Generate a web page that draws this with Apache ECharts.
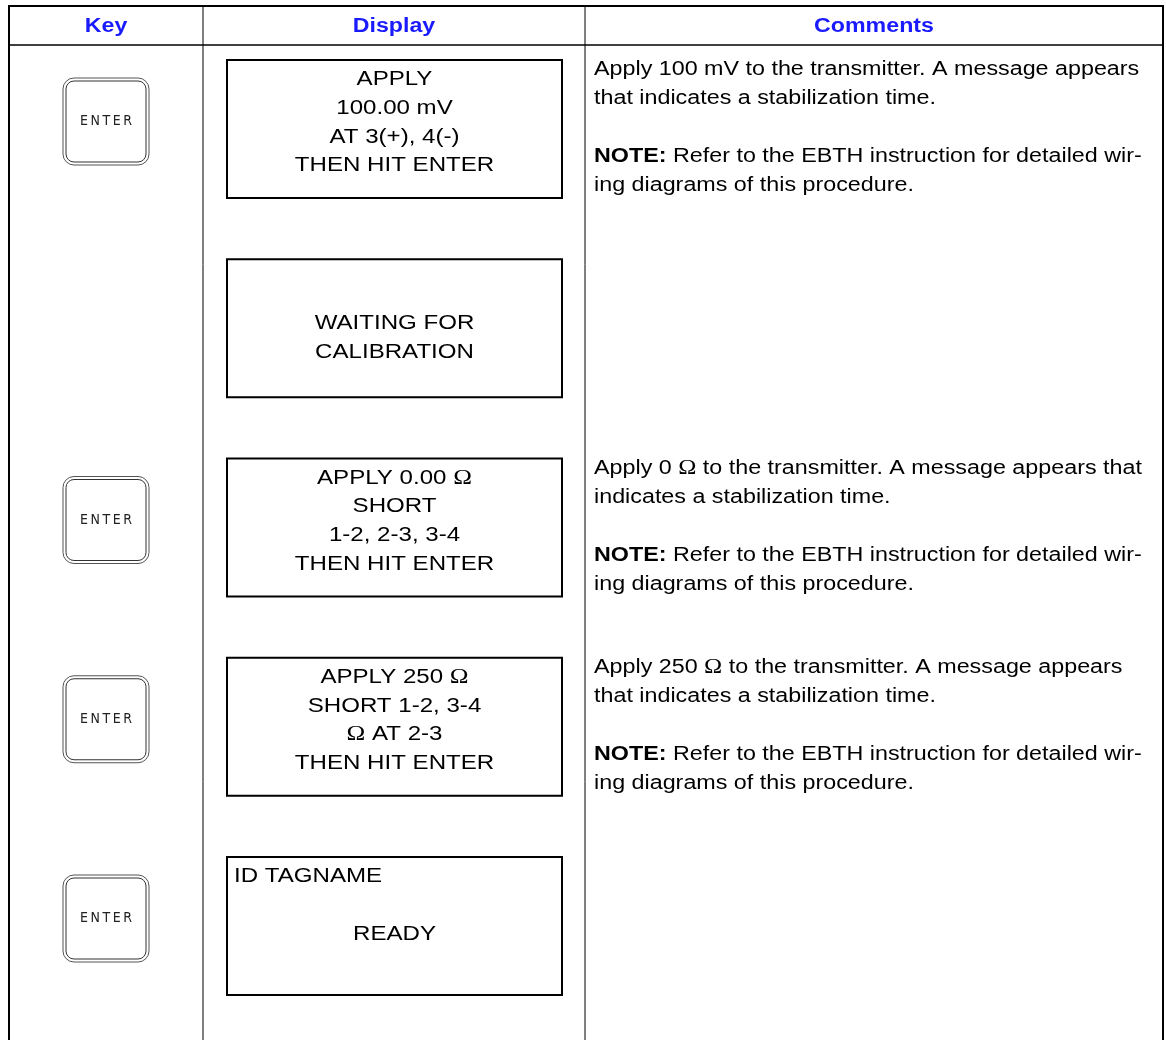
<!DOCTYPE html>
<html>
<head>
<meta charset="utf-8">
<script src="https://cdn.jsdelivr.net/npm/echarts@6/dist/echarts.min.js"></script>
<style>html,body{margin:0;padding:0;background:#fff;}#c{width:1166px;height:1040px;}</style>
</head>
<body>
<div id="c"></div>
<script>
// ---- data ----
const headers = ['Key', 'Display', 'Comments'];
const keyLabels = ['ENTER', '', 'ENTER', 'ENTER', 'ENTER'];
const displayLines = [
  ['APPLY', '100.00 mV', 'AT 3(+), 4(-)', 'THEN HIT ENTER'],
  ['WAITING FOR', 'CALIBRATION'],
  ['APPLY 0.00 Ω', 'SHORT', '1-2, 2-3, 3-4', 'THEN HIT ENTER'],
  ['APPLY 250 Ω', 'SHORT 1-2, 3-4', 'Ω AT 2-3', 'THEN HIT ENTER'],
  ['ID TAGNAME', '', 'READY']
];
const commentLines = [
  ['Apply 100 mV to the transmitter. A message appears', 'that indicates a stabilization time.', '', '**NOTE:** Refer to the EBTH instruction for detailed wir-', 'ing diagrams of this procedure.'],
  [],
  ['Apply 0 Ω to the transmitter. A message appears that', 'indicates a stabilization time.', '', '**NOTE:** Refer to the EBTH instruction for detailed wir-', 'ing diagrams of this procedure.'],
  ['Apply 250 Ω to the transmitter. A message appears', 'that indicates a stabilization time.', '', '**NOTE:** Refer to the EBTH instruction for detailed wir-', 'ing diagrams of this procedure.'],
  []
];

// ---- layout / style ----
const L = {
  left: 9, right: 1163, top: 6, headerBottom: 45, bottom: 1040,
  col1: 203, col2: 585,
  rowTop0: 60, rowPitch: 199.25,
  boxL: 227, boxR: 562, boxH: 138,
  btnCx: 106, btnW: 86, btnH: 87, btnDy: 18,
  dispFirst: 19.5, dispLH: 28.7,
  comX: 594, comFirst: 9.5, comLH: 29
};
const displayStartOffset = [0, 1.55, 0, 0, 0];   // in lines
const displayFirstLineLeft = [false, false, false, false, true];
const FONT = '"Liberation Sans", Arial, sans-serif';
const BLUE = '#1a1aff';
const FS_DISP = 20.5, SX_DISP = 1.175;
const FS_COM = 20, SX_COM = 1.165;
const FS_HEAD = 19.5, SX_HEAD = 1.19;

function rich(s) {
  let out = s.replace(/\*\*(.+?)\*\*/g, '{b|$1}');
  out = out.replace(/Ω/g, '{o|Ω}');
  return out;
}

const g = [];
const line = (x1, y1, x2, y2, w) => g.push({type: 'line', silent: true, shape: {x1, y1, x2, y2}, style: {stroke: '#000', lineWidth: w}});
line(L.left, L.top, L.right, L.top, 2);
line(L.left, L.top - 1, L.left, L.bottom, 2);
line(L.right, L.top - 1, L.right, L.bottom, 2);
line(L.left, L.headerBottom, L.right, L.headerBottom, 1.5);
line(L.col1, L.top, L.col1, L.bottom, 1);
line(L.col2, L.top, L.col2, L.bottom, 1);

function txt(x, y, sx, style) {
  g.push({type: 'text', silent: true, x, y, scaleX: sx, style: Object.assign({x: 0, y: 0, verticalAlign: 'middle'}, style)});
}

const colCenters = [(L.left + L.col1) / 2, (L.col1 + L.col2) / 2, (L.col2 + L.right) / 2];
headers.forEach((h, i) => txt(colCenters[i], (L.top + L.headerBottom) / 2 + 1, SX_HEAD, {
  text: h, align: 'center', fontFamily: FONT, fontWeight: 'bold', fontSize: FS_HEAD, fill: BLUE}));

const richStyles = {
  b: {fontFamily: FONT, fontWeight: 'bold', fontSize: FS_COM, fill: '#000'},
  o: {fontFamily: '"Liberation Serif", serif', fontSize: FS_COM + 1, fill: '#000'}
};

displayLines.forEach((lines, r) => {
  const top = L.rowTop0 + r * L.rowPitch;
  g.push({type: 'rect', silent: true, shape: {x: L.boxL, y: top, width: L.boxR - L.boxL, height: L.boxH},
    style: {fill: '#fff', stroke: '#000', lineWidth: 2}});
  lines.forEach((t, k) => {
    if (!t) return;
    const leftAl = displayFirstLineLeft[r] && k === 0;
    txt(leftAl ? L.boxL + 7 : (L.boxL + L.boxR) / 2, top + L.dispFirst + (k + displayStartOffset[r]) * L.dispLH, SX_DISP, {
      text: rich(t), align: leftAl ? 'left' : 'center',
      fontFamily: FONT, fontSize: FS_DISP, fill: '#000',
      rich: {o: {fontFamily: '"Liberation Serif", serif', fontSize: FS_DISP + 1, fill: '#000'}}});
  });
  if (keyLabels[r]) {
    const bx = L.btnCx - L.btnW / 2, by = top + L.btnDy;
    g.push({type: 'rect', silent: true, shape: {x: bx, y: by, width: L.btnW, height: L.btnH, r: 11},
      style: {fill: '#fff', stroke: '#555', lineWidth: 1}});
    g.push({type: 'rect', silent: true, shape: {x: bx + 3, y: by + 3, width: L.btnW - 6, height: L.btnH - 6, r: 8},
      style: {fill: '#fff', stroke: '#333', lineWidth: 1}});
    txt(L.btnCx, by + L.btnH / 2, 1, {
      text: keyLabels[r].split('').join('\u2009'), align: 'center',
      fontFamily: '"DejaVu Sans Condensed", "DejaVu Sans", sans-serif', fontSize: 14, fill: '#222'});
  }
  commentLines[r].forEach((t, k) => {
    if (!t) return;
    txt(L.comX, top + L.comFirst + k * L.comLH, SX_COM, {
      text: rich(t), align: 'left', fontFamily: FONT, fontSize: FS_COM, fill: '#000', rich: richStyles});
  });
});

const chart = echarts.init(document.getElementById('c'), null, {renderer: 'canvas'});
chart.setOption({animation: false, backgroundColor: '#fff', graphic: {elements: g}});
</script>
</body>
</html>
